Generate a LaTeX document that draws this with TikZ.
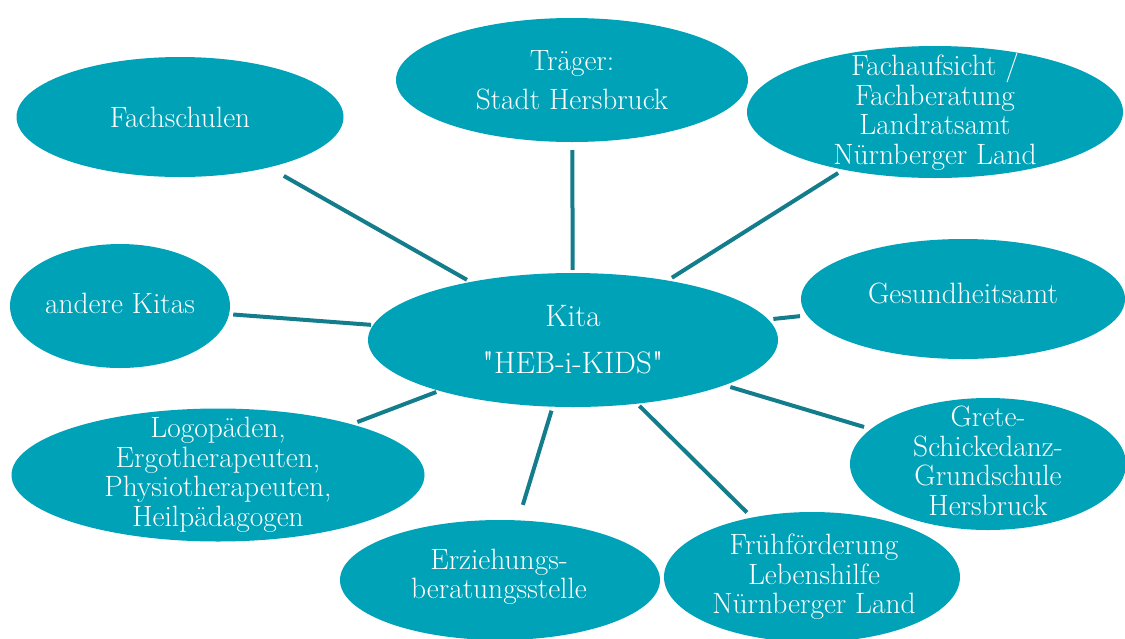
\documentclass[tikz,border=0pt]{standalone}
\usepackage{fontspec}
\newfontfamily\plainrm{lmroman10-regular.otf}
\usetikzlibrary{shapes.geometric}
\definecolor{kitafill}{RGB}{0,162,184}
\definecolor{kitaline}{RGB}{20,125,140}
\tikzset{
  blob/.style = {ellipse, fill = kitafill, inner sep = 0pt},
  words/.style = {text = white, align = center, inner sep = 0pt,
                  font = \fontsize{29.4}{29.5}\selectfont},
  link/.style = {draw = kitaline, line width = 4pt}
}
\begin{document}
\begin{tikzpicture}[x = 1pt, y = -1pt]
    \useasboundingbox (0, 0) rectangle (1125, 638);
    % the bubbles
    \node[blob, minimum width = 410pt, minimum height = 134pt] (kita) at (573, 340) {};
    \node[blob, minimum width = 352pt, minimum height = 124pt] (traeger) at (572, 80) {};
    \node[blob, minimum width = 327pt, minimum height = 120pt] (fachschulen) at (180, 117) {};
    \node[blob, minimum width = 376pt, minimum height = 132pt] (aufsicht) at (935, 112) {};
    \node[blob, minimum width = 324pt, minimum height = 120pt] (gesundheit) at (963, 299) {};
    \node[blob, minimum width = 220pt, minimum height = 124pt] (kitas) at (120, 306) {};
    \node[blob, minimum width = 413pt, minimum height = 133pt] (logo) at (218, 475) {};
    \node[blob, minimum width = 320pt, minimum height = 120pt] (erziehung) at (500, 580) {};
    \node[blob, minimum width = 296pt, minimum height = 130pt] (frueh) at (812, 577) {};
    \node[blob, minimum width = 276pt, minimum height = 132pt] (grete) at (988, 464) {};
    % the texts
    \node[words, font = \fontsize{31}{47}\selectfont] (kita-t) at (kita)
        {Kita\\ {\plainrm"}HEB-i-KIDS{\plainrm"}};
    \node[words] (traeger-t) at (traeger) {Träger:\\[10pt] Stadt Hersbruck};
    \node[words] (fachschulen-t) at (fachschulen) {Fachschulen};
    \node[words] (aufsicht-t) at (aufsicht)
        {Fachaufsicht /\\ Fachberatung\\ Landratsamt\\ Nürnberger Land};
    \node[words] (gesundheit-t) at (963, 293) {Gesundheitsamt};
    \node[words] (kitas-t) at (120, 303) {andere Kitas};
    \node[words] (logo-t) at (logo)
        {Logopäden,\\ Ergotherapeuten,\\ Physiotherapeuten,\\ Heilpädagogen};
    \node[words] (erziehung-t) at (499, 577) {Erziehungs-\\ beratungsstelle};
    \node[words] (frueh-t) at (814, 577) {Frühförderung\\ Lebenshilfe\\ Nürnberger Land};
    \node[words] (grete-t) at (988, 461) {Grete-\\ Schickedanz-\\ Grundschule\\ Hersbruck};
    % the connectors
    \foreach \n/\a/\b in {fachschulen/17/4, traeger/8/3, aufsicht/6/5, gesundheit/7/5,
                          kitas/4/2, logo/6/3, erziehung/16/4, frueh/7/3, grete/7/6}
        \draw[link, shorten < = \a pt, shorten > = \b pt] (\n) -- (kita);
\end{tikzpicture}
\end{document}
